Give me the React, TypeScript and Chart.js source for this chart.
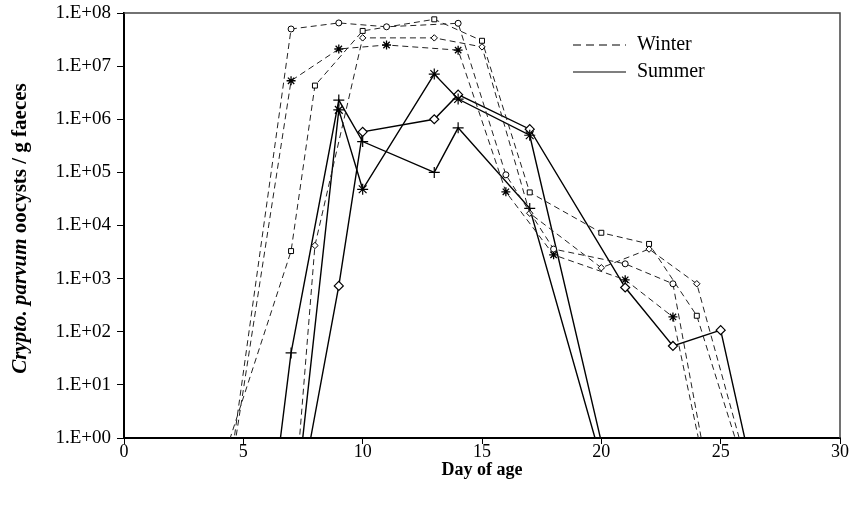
import React, { useEffect, useRef } from 'react';
import { Chart, registerables } from 'chart.js';

Chart.register(...registerables);

const FONT = '"Liberation Serif", "Times New Roman", serif';

// ND = not detected; plotted below the 1.E+00 axis floor, so the line runs off the chart
const ND = 0.01;

// Winter (dashed) series
const winterCircleDays = [4, 7, 9, 11, 14, 16, 18, 21, 23, 25];
const winterCircleValues = [ND, 5.0e7, 6.5e7, 5.5e7, 6.4e7, 9.0e4, 3.6e3, 1.9e3, 8.0e2, ND];

const winterStarDays = [4, 7, 9, 11, 14, 16, 18, 21, 23, 25];
const winterStarValues = [ND, 5.3e6, 2.1e7, 2.5e7, 2.0e7, 4.3e4, 2.8e3, 9.5e2, 1.9e2, ND];

const winterSquareDays = [3, 7, 8, 10, 13, 15, 17, 20, 22, 24, 27];
const winterSquareValues = [ND, 3.3e3, 4.3e6, 4.6e7, 7.6e7, 3.0e7, 4.2e4, 7.3e3, 4.5e3, 2.0e2, ND];

const winterDiamondDays = [7, 8, 10, 13, 15, 17, 20, 22, 24, 27];
const winterDiamondValues = [ND, 4.2e3, 3.4e7, 3.4e7, 2.3e7, 1.7e4, 1.6e3, 3.6e3, 8.0e2, ND];

// Summer (solid) series
const summerPlusDays = [6, 7, 9, 10, 13, 14, 17, 21];
const summerPlusValues = [ND, 40, 2.3e6, 3.8e5, 1.0e5, 6.9e5, 2.1e4, ND];

const summerStarDays = [7, 9, 10, 13, 14, 17, 21];
const summerStarValues = [ND, 1.5e6, 4.8e4, 7.1e6, 2.4e6, 5.0e5, ND];

const summerDiamondDays = [7, 9, 10, 13, 14, 17, 21, 23, 25, 27];
const summerDiamondValues = [ND, 7.3e2, 5.8e5, 1.0e6, 2.9e6, 6.5e5, 6.8e2, 54, 1.07e2, ND];

const Y_TICKS = [1, 1e1, 1e2, 1e3, 1e4, 1e5, 1e6, 1e7, 1e8];
const X_MIN = 0;
const X_MAX = 30;
const X_STEP = 5;

const LEGEND_LABELS = ['Winter', 'Summer'];
const X_TITLE = 'Day of age';
const Y_TITLE_ITALIC = 'Crypto. parvum';
const Y_TITLE_REST = ' oocysts / g faeces';

function pts(days: number[], values: number[]) {
  return days.map((d, i) => ({ x: d, y: values[i] }));
}

function fmtExp(v: number) {
  const e = Math.round(Math.log10(v));
  return '1.E+' + String(e).padStart(2, '0');
}

const yTitlePlugin = {
  id: 'yTitleMixed',
  afterDraw(chart: any) {
    const { ctx, chartArea } = chart;
    ctx.save();
    const cy = (chartArea.top + chartArea.bottom) / 2 + 3;
    ctx.translate(21, cy);
    ctx.rotate(-Math.PI / 2);
    const f1 = `italic bold 21px ${FONT}`;
    const f2 = `bold 21px ${FONT}`;
    ctx.font = f1;
    const w1 = ctx.measureText(Y_TITLE_ITALIC).width;
    ctx.font = f2;
    const w2 = ctx.measureText(Y_TITLE_REST).width;
    const x0 = -(w1 + w2) / 2;
    ctx.textBaseline = 'middle';
    ctx.textAlign = 'left';
    ctx.fillStyle = '#000';
    ctx.font = f1;
    ctx.fillText(Y_TITLE_ITALIC, x0, 0);
    ctx.font = f2;
    ctx.fillText(Y_TITLE_REST, x0 + w1, 0);
    ctx.restore();
  },
};

const framePlugin = {
  id: 'frameTopRight',
  beforeDatasetsDraw(chart: any) {
    const { ctx, chartArea } = chart;
    ctx.save();
    ctx.strokeStyle = '#444';
    ctx.lineWidth = 1.5;
    ctx.beginPath();
    ctx.moveTo(chartArea.left, chartArea.top);
    ctx.lineTo(chartArea.right, chartArea.top);
    ctx.lineTo(chartArea.right, chartArea.bottom);
    ctx.stroke();
    ctx.restore();
  },
};

const legendPlugin = {
  id: 'customLegend',
  afterDraw(chart: any) {
    const { ctx } = chart;
    ctx.save();
    const x1 = 573;
    const x2 = 626;
    const rows = [45, 72];
    ctx.strokeStyle = '#000';
    ctx.lineWidth = 1.2;
    rows.forEach((y, i) => {
      ctx.setLineDash(i === 0 ? [8, 5] : []);
      ctx.beginPath();
      ctx.moveTo(x1, y);
      ctx.lineTo(x2, y);
      ctx.stroke();
    });
    ctx.setLineDash([]);
    ctx.fillStyle = '#000';
    ctx.font = `20px ${FONT}`;
    ctx.textBaseline = 'middle';
    ctx.textAlign = 'left';
    rows.forEach((y, i) => ctx.fillText(LEGEND_LABELS[i], 637, y));
    ctx.restore();
  },
};

export default function App() {
  const ref = useRef<HTMLCanvasElement | null>(null);

  useEffect(() => {
    if (!ref.current) return;
    const winterBase = {
      borderColor: '#222',
      borderWidth: 1,
      borderDash: [6, 4],
      pointBorderColor: '#000',
      pointBackgroundColor: '#fff',
      pointBorderWidth: 1,
      fill: false,
      tension: 0,
    };
    const summerBase = {
      borderColor: '#000',
      borderWidth: 1.4,
      borderDash: [],
      pointBorderColor: '#000',
      pointBackgroundColor: '#fff',
      pointBorderWidth: 1.2,
      fill: false,
      tension: 0,
    };
    const chart = new Chart(ref.current, {
      type: 'line',
      data: {
        datasets: [
          { ...winterBase, label: 'Winter circle', data: pts(winterCircleDays, winterCircleValues), pointStyle: 'circle', pointRadius: 3 },
          { ...winterBase, label: 'Winter star', data: pts(winterStarDays, winterStarValues), pointStyle: 'star', pointRadius: 4.5, pointBorderWidth: 1.3 },
          { ...winterBase, label: 'Winter square', data: pts(winterSquareDays, winterSquareValues), pointStyle: 'rect', pointRadius: 3.5 },
          { ...winterBase, label: 'Winter diamond', data: pts(winterDiamondDays, winterDiamondValues), pointStyle: 'rectRot', pointRadius: 3.2 },
          { ...summerBase, label: 'Summer plus', data: pts(summerPlusDays, summerPlusValues), pointStyle: 'cross', pointRadius: 5.5 },
          { ...summerBase, label: 'Summer star', data: pts(summerStarDays, summerStarValues), pointStyle: 'star', pointRadius: 5.5 },
          { ...summerBase, label: 'Summer diamond', data: pts(summerDiamondDays, summerDiamondValues), pointStyle: 'rectRot', pointRadius: 4.5 },
        ],
      },
      options: {
        animation: false,
        responsive: false,
        maintainAspectRatio: false,
        events: [],
        layout: { padding: { top: 13, right: 15, bottom: 0, left: 0 } },
        plugins: {
          legend: { display: false },
          tooltip: { enabled: false },
          title: { display: false },
        },
        scales: {
          x: {
            type: 'linear',
            min: X_MIN,
            max: X_MAX,
            ticks: {
              stepSize: X_STEP,
              color: '#000',
              font: { family: FONT, size: 18 },
              padding: -3,
              maxRotation: 0,
              autoSkip: false,
            },
            grid: { display: true, drawOnChartArea: false, drawTicks: true, tickLength: 6, color: '#000', lineWidth: 1 },
            border: { display: true, color: '#000', width: 2 },
            title: {
              display: true,
              text: X_TITLE,
              color: '#000',
              font: { family: FONT, size: 18, weight: 'bold' },
              padding: { top: 0, bottom: 24 },
            },
            afterFit: (s: any) => {
              s.height = 67;
              s.paddingLeft = 0;
            },
          },
          y: {
            type: 'logarithmic',
            min: Y_TICKS[0],
            max: Y_TICKS[Y_TICKS.length - 1],
            afterBuildTicks: (s: any) => {
              s.ticks = Y_TICKS.map((v) => ({ value: v }));
            },
            ticks: {
              callback: (v: any) => fmtExp(Number(v)),
              color: '#000',
              font: { family: FONT, size: 19 },
              padding: 6,
              autoSkip: false,
            },
            grid: { display: true, drawOnChartArea: false, drawTicks: true, tickLength: 7, color: '#000', lineWidth: 1 },
            border: { display: true, color: '#000', width: 2 },
            afterFit: (s: any) => {
              s.width = 124;
              s.paddingTop = 0;
              s.paddingBottom = 0;
            },
          },
        },
      } as any,
      plugins: [framePlugin, yTitlePlugin, legendPlugin],
    });
    return () => chart.destroy();
  }, []);

  return (
    <div style={{ position: 'fixed', left: 0, top: 0, width: 855, height: 505, background: '#fff' }}>
      <canvas ref={ref} width={855} height={505} style={{ width: 855, height: 505, display: 'block' }} />
    </div>
  );
}
